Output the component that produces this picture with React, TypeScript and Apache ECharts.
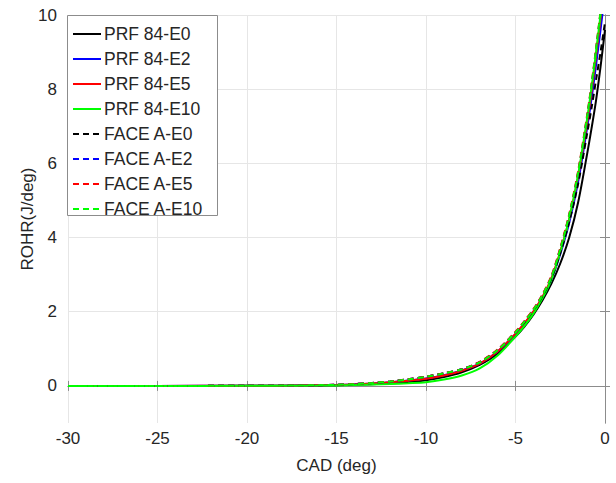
import React, { useEffect, useRef } from "react";
import * as echarts from "echarts";

const cad = [-30, -25, -20, -18, -16, -15, -14, -13, -12, -11, -10, -9, -8, -7, -6, -5, -4.5, -4, -3.5, -3, -2.5, -2, -1.5, -1, -0.75, -0.5, -0.25, 0];

const prfE0 = [0, 0, 0.002, 0.005, 0.012, 0.02, 0.03, 0.048, 0.07, 0.1, 0.15, 0.24, 0.37, 0.57, 0.87, 1.33, 1.6, 1.92, 2.3, 2.75, 3.3, 4.0, 4.95, 6.25, 6.95, 7.7, 8.6, 9.6];
const prfE2 = [0, 0, 0.003, 0.007, 0.017, 0.026, 0.042, 0.066, 0.1, 0.145, 0.2, 0.29, 0.42, 0.6, 0.93, 1.4, 1.68, 2.0, 2.38, 2.86, 3.55, 4.4, 5.5, 6.95, 7.75, 8.65, 9.6, 10.6];
const prfE5 = [0, 0, 0.003, 0.007, 0.017, 0.025, 0.04, 0.064, 0.097, 0.14, 0.19, 0.28, 0.41, 0.6, 0.93, 1.41, 1.69, 2.01, 2.4, 2.9, 3.62, 4.5, 5.65, 7.1, 7.95, 8.9, 9.9, 10.95];
const prfE10 = [0, 0, 0.001, 0.003, 0.008, 0.013, 0.022, 0.035, 0.05, 0.072, 0.1, 0.17, 0.28, 0.47, 0.82, 1.33, 1.62, 1.95, 2.36, 2.86, 3.6, 4.5, 5.7, 7.2, 8.05, 9.0, 10.0, 11.05];
const faceE0 = [0, 0, 0.003, 0.008, 0.02, 0.03, 0.05, 0.08, 0.12, 0.18, 0.25, 0.34, 0.45, 0.64, 0.97, 1.44, 1.72, 2.04, 2.42, 2.9, 3.58, 4.42, 5.45, 6.8, 7.5, 8.25, 9.0, 9.8];
const faceE2 = [0, 0, 0.003, 0.008, 0.02, 0.03, 0.05, 0.08, 0.12, 0.18, 0.25, 0.34, 0.45, 0.64, 0.97, 1.45, 1.74, 2.06, 2.45, 2.94, 3.7, 4.6, 5.75, 7.25, 8.1, 9.05, 10.05, 11.1];
const faceE5 = [0, 0, 0.003, 0.008, 0.02, 0.03, 0.05, 0.08, 0.12, 0.18, 0.25, 0.34, 0.45, 0.65, 0.98, 1.46, 1.75, 2.07, 2.46, 2.96, 3.72, 4.63, 5.8, 7.3, 8.15, 9.1, 10.1, 11.15];
const faceE10 = [0, 0, 0.003, 0.008, 0.019, 0.029, 0.048, 0.078, 0.117, 0.175, 0.245, 0.335, 0.445, 0.635, 0.965, 1.44, 1.73, 2.05, 2.44, 2.93, 3.68, 4.6, 5.76, 7.26, 8.12, 9.08, 10.08, 11.12];

const seriesNames = ["PRF 84-E0", "PRF 84-E2", "PRF 84-E5", "PRF 84-E10", "FACE A-E0", "FACE A-E2", "FACE A-E5", "FACE A-E10"];
const seriesValues = [prfE0, prfE2, prfE5, prfE10, faceE0, faceE2, faceE5, faceE10];
const seriesColors = ["#000000", "#0000ff", "#ff0000", "#00ff00", "#000000", "#0000ff", "#ff0000", "#00ff00"];
const seriesDashed = [false, false, false, false, true, true, true, true];

const xTicks = [-30, -25, -20, -15, -10, -5, 0];
const yTicks = [0, 2, 4, 6, 8, 10];

const FONT = "Liberation Sans, Arial, sans-serif";
const AXIS_COLOR = "#8c8c8c";
const TEXT_COLOR = "#262626";
const GRID_COLOR = "#e6e6e6";

export default function App() {
  const ref = useRef<HTMLDivElement>(null);
  useEffect(() => {
    if (!ref.current) return;
    const chart = echarts.init(ref.current, null, { renderer: "svg" });
    const series = seriesNames.map((name, i) => ({
      name,
      type: "line",
      xAxisIndex: 0,
      yAxisIndex: 0,
      data: cad.map((x, j) => [x, seriesValues[i][j]]),
      symbol: "none",
      smooth: 0.3,
      clip: true,
      lineStyle: {
        color: seriesColors[i],
        width: 2,
        type: seriesDashed[i] ? [6, 4] : "solid",
      },
      itemStyle: { color: seriesColors[i] },
    }));
    const xBase = {
      type: "value",
      min: -30,
      max: 0,
      interval: 5,
      axisLine: { show: true, lineStyle: { color: AXIS_COLOR, width: 1 } },
      axisTick: { show: true, inside: true, length: 5, lineStyle: { color: AXIS_COLOR } },
    };
    const yBase = {
      type: "value",
      min: -1,
      max: 10,
      axisLine: { show: true, lineStyle: { color: AXIS_COLOR, width: 1 } },
      axisTick: { show: true, inside: true, length: 5, customValues: yTicks, lineStyle: { color: AXIS_COLOR } },
    };
    chart.setOption({
      animation: false,
      backgroundColor: "#ffffff",
      textStyle: { fontFamily: FONT },
      grid: { left: 68, right: 11, top: 15, bottom: 60, containLabel: false },
      xAxis: [
        {
          ...xBase,
          position: "bottom",
          name: "CAD (deg)",
          nameLocation: "middle",
          nameGap: 34,
          nameMoveOverlap: false,
          nameTextStyle: { fontSize: 17, color: TEXT_COLOR, fontFamily: FONT },
          axisLabel: { show: true, fontSize: 17, color: TEXT_COLOR, margin: 7, fontFamily: FONT, customValues: xTicks },
          splitLine: { show: true, lineStyle: { color: GRID_COLOR, width: 1 } },
        },
        {
          ...xBase,
          position: "top",
          axisLabel: { show: false },
          splitLine: { show: false },
        },
      ],
      yAxis: [
        {
          ...yBase,
          position: "left",
          name: "ROHR(J/deg)",
          nameLocation: "middle",
          nameGap: 32,
          nameMoveOverlap: false,
          nameTextStyle: { fontSize: 17, color: TEXT_COLOR, fontFamily: FONT },
          axisLabel: { show: true, fontSize: 17, color: TEXT_COLOR, margin: 11, fontFamily: FONT, customValues: yTicks },
          splitLine: { show: true, lineStyle: { color: GRID_COLOR, width: 1 } },
        },
        {
          ...yBase,
          position: "right",
          axisLabel: { show: false },
          splitLine: { show: false },
        },
      ],
      legend: {
        show: true,
        orient: "vertical",
        left: 72,
        top: 25,
        padding: 0,
        itemWidth: 28,
        itemHeight: 14,
        itemGap: 7,
        z: 10,
        data: seriesNames,
        itemStyle: { opacity: 0 },
        textStyle: { fontSize: 17.5, color: TEXT_COLOR, fontFamily: FONT, lineHeight: 14, padding: [0, 0, 0, -2] },
      },
      graphic: [
        {
          type: "rect",
          z: 5,
          shape: { x: 67.5, y: 15.5, width: 150, height: 200 },
          style: { fill: "#ffffff", stroke: AXIS_COLOR, lineWidth: 1 },
        },
      ],
      series,
    });
    return () => chart.dispose();
  }, []);
  return <div ref={ref} style={{ position: "fixed", left: 0, top: 0, width: 616, height: 483 }} />;
}
